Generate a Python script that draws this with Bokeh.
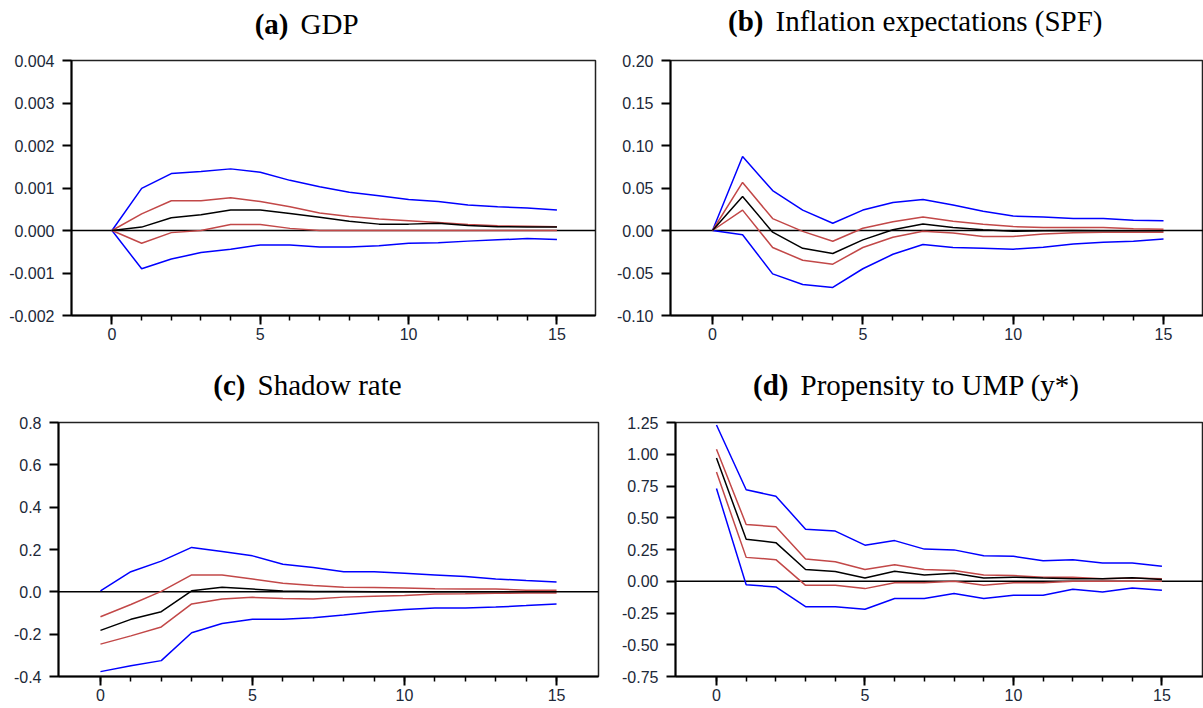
from bokeh.plotting import figure
from bokeh.models import Range1d, FixedTicker, Span, Label, PrintfTickFormatter
from bokeh.layouts import column, row
from bokeh.embed import file_html
from bokeh.resources import INLINE

# ---------------- data ----------------
horizon = list(range(16))
x_tick_values = [0, 5, 10, 15]
x_tick_labels = ["0", "5", "10", "15"]

# (a) GDP
gdp_hi2 = [0, 0.00099, 0.00134, 0.00139, 0.00145, 0.00137, 0.00118, 0.00103, 0.00090, 0.00082, 0.00073, 0.00068, 0.00060, 0.00056, 0.00053, 0.00048]
gdp_hi1 = [0, 0.00039, 0.00070, 0.00070, 0.00077, 0.00068, 0.00056, 0.00041, 0.00033, 0.00027, 0.00023, 0.00019, 0.00014, 0.00011, 0.00010, 0.00009]
gdp_med = [0, 0.00008, 0.00030, 0.00037, 0.00048, 0.00048, 0.00040, 0.00031, 0.00022, 0.00015, 0.00015, 0.00017, 0.00012, 0.00009, 0.00008, 0.00008]
gdp_lo1 = [0, -0.00030, -0.00005, 0.0, 0.00014, 0.00014, 0.00005, 0.0, 0.0, 0.0, 0.0, 0.0, 0.0, 0.0, 0.0, 0.0]
gdp_lo2 = [0, -0.00090, -0.00067, -0.00052, -0.00044, -0.00034, -0.00034, -0.00039, -0.00039, -0.00036, -0.00030, -0.00029, -0.00025, -0.00022, -0.00019, -0.00021]
gdp_y_ticks = [-0.002, -0.001, 0.0, 0.001, 0.002, 0.003, 0.004]
gdp_y_labels = ["-0.002", "-0.001", "0.000", "0.001", "0.002", "0.003", "0.004"]

# (b) Inflation expectations (SPF)
spf_hi2 = [0, 0.087, 0.047, 0.024, 0.0085, 0.024, 0.033, 0.0365, 0.030, 0.0227, 0.017, 0.016, 0.014, 0.014, 0.012, 0.0115]
spf_hi1 = [0, 0.0565, 0.014, -0.001, -0.0127, 0.0027, 0.0104, 0.016, 0.011, 0.0073, 0.0046, 0.0035, 0.0035, 0.0035, 0.002, 0.0015]
spf_med = [0, 0.040, -0.002, -0.021, -0.027, -0.011, 0.0008, 0.0077, 0.0035, 0.0008, -0.001, -0.0004, 0.0, -0.0004, -0.0004, -0.0004]
spf_lo1 = [0, 0.024, -0.020, -0.035, -0.0396, -0.020, -0.008, -0.001, -0.003, -0.007, -0.007, -0.004, -0.0027, -0.002, -0.002, -0.002]
spf_lo2 = [0, -0.005, -0.051, -0.0635, -0.067, -0.045, -0.028, -0.0165, -0.020, -0.021, -0.022, -0.0196, -0.0158, -0.0138, -0.0127, -0.010]
spf_y_ticks = [-0.10, -0.05, 0.0, 0.05, 0.10, 0.15, 0.20]
spf_y_labels = ["-0.10", "-0.05", "0.00", "0.05", "0.10", "0.15", "0.20"]

# (c) Shadow rate
sr_hi2 = [0.005, 0.095, 0.145, 0.21, 0.19, 0.17, 0.13, 0.115, 0.095, 0.095, 0.088, 0.08, 0.072, 0.061, 0.053, 0.046]
sr_hi1 = [-0.118, -0.06, 0.002, 0.08, 0.08, 0.061, 0.041, 0.03, 0.022, 0.02, 0.018, 0.014, 0.013, 0.013, 0.008, 0.007]
sr_med = [-0.182, -0.13, -0.094, 0.005, 0.022, 0.013, 0.004, 0.001, 0.001, 0.0, 0.0, 0.0, 0.0, 0.0, 0.0, 0.0]
sr_lo1 = [-0.247, -0.208, -0.166, -0.057, -0.034, -0.026, -0.032, -0.034, -0.025, -0.021, -0.017, -0.010, -0.009, -0.007, -0.006, -0.006]
sr_lo2 = [-0.377, -0.349, -0.325, -0.193, -0.150, -0.130, -0.130, -0.122, -0.110, -0.094, -0.083, -0.076, -0.076, -0.072, -0.065, -0.057]
sr_y_ticks = [-0.4, -0.2, 0.0, 0.2, 0.4, 0.6, 0.8]
sr_y_labels = ["-0.4", "-0.2", "0.0", "0.2", "0.4", "0.6", "0.8"]

# (d) Propensity to UMP (y*)
ump_hi2 = [1.23, 0.72, 0.67, 0.41, 0.395, 0.284, 0.32, 0.253, 0.247, 0.20, 0.196, 0.162, 0.17, 0.144, 0.144, 0.118]
ump_hi1 = [1.04, 0.447, 0.43, 0.175, 0.154, 0.092, 0.13, 0.092, 0.084, 0.05, 0.045, 0.032, 0.032, 0.019, 0.025, 0.019]
ump_med = [0.97, 0.33, 0.304, 0.092, 0.076, 0.025, 0.079, 0.05, 0.063, 0.025, 0.032, 0.025, 0.019, 0.019, 0.027, 0.014]
ump_lo1 = [0.86, 0.188, 0.17, -0.032, -0.032, -0.058, -0.012, -0.012, 0.0, -0.032, -0.012, -0.012, 0.0, 0.0, 0.0, 0.0]
ump_lo2 = [0.73, -0.027, -0.045, -0.20, -0.20, -0.22, -0.136, -0.136, -0.097, -0.136, -0.11, -0.11, -0.063, -0.084, -0.053, -0.071]
ump_y_ticks = [-0.75, -0.50, -0.25, 0.0, 0.25, 0.50, 0.75, 1.00, 1.25]
ump_y_labels = ["-0.75", "-0.50", "-0.25", "0.00", "0.25", "0.50", "0.75", "1.00", "1.25"]

titles_bold = ["(a)", "(b)", "(c)", "(d)"]
titles_text = ["GDP", "Inflation expectations (SPF)", "Shadow rate", "Propensity to UMP (y*)"]

# ---------------- styling ----------------
BLUE = "#0000ff"
RED = "#c24848"
BLACK = "#000000"
TICK_COLOR = "#202838"
SERIF = "Liberation Serif"
SANS = "Liberation Sans"
TOTAL_W = 1203


def title_strip(height, specs):
    """A blank figure whose frame is the whole strip; pixel-like data units."""
    s = figure(width=TOTAL_W, height=height, output_backend="svg", toolbar_location=None,
               x_range=Range1d(0, TOTAL_W), y_range=Range1d(0, height),
               min_border_left=0, min_border_right=0, min_border_top=0, min_border_bottom=0)
    s.axis.visible = False
    s.grid.visible = False
    s.outline_line_color = None
    s.background_fill_color = "white"
    s.border_fill_color = "white"
    for idx, split_x, mid_y in specs:
        s.add_layout(Label(x=split_x, y=mid_y, text=titles_bold[idx], text_font=SERIF,
                           text_font_size="29px", text_font_style="bold", text_align="right",
                           text_baseline="middle", text_color="black"))
        s.add_layout(Label(x=split_x + 12, y=mid_y, text=titles_text[idx], text_font=SERIF,
                           text_font_size="29px", text_align="left",
                           text_baseline="middle", text_color="black"))
    return s


def make_panel(hi2, hi1, med, lo1, lo2, yticks, ylabels, fmt,
               width, height, bl, br, bt, bb, xr, yr):
    p = figure(width=width, height=height, output_backend="svg", toolbar_location=None,
               x_range=Range1d(*xr), y_range=Range1d(*yr),
               min_border_left=bl, min_border_right=br, min_border_top=bt, min_border_bottom=bb)
    p.background_fill_color = "white"
    p.border_fill_color = "white"
    p.xgrid.visible = False
    p.ygrid.visible = False
    p.outline_line_color = "#222222"
    p.outline_line_width = 1.5

    # zero line
    p.add_layout(Span(location=0, dimension="width", line_color="black", line_width=1.5, level="underlay"))

    p.line(horizon, hi2, line_color=BLUE, line_width=1.5)
    p.line(horizon, lo2, line_color=BLUE, line_width=1.5)
    p.line(horizon, hi1, line_color=RED, line_width=1.5)
    p.line(horizon, lo1, line_color=RED, line_width=1.5)
    p.line(horizon, med, line_color=BLACK, line_width=1.5)

    # axes
    xa = p.below[0]
    xa.ticker = FixedTicker(ticks=x_tick_values, minor_ticks=horizon)
    xa.major_label_overrides = {v: s for v, s in zip(x_tick_values, x_tick_labels)}
    xa.major_tick_out = 9
    xa.major_tick_in = 0
    xa.minor_tick_out = 5
    xa.minor_tick_in = 0
    xa.major_label_standoff = 3
    ya = p.left[0]
    ya.ticker = FixedTicker(ticks=yticks, minor_ticks=[])
    ya.formatter = PrintfTickFormatter(format=fmt)
    ya.major_label_overrides = {v: s for v, s in zip(yticks, ylabels)}
    ya.major_tick_out = 9
    ya.major_tick_in = 0
    ya.major_label_standoff = 8
    for ax in (xa, ya):
        ax.axis_line_width = 2
        ax.axis_line_color = "black"
        ax.major_tick_line_color = "black"
        ax.major_tick_line_width = 2
        ax.minor_tick_line_color = "black"
        ax.minor_tick_line_width = 1.5
        ax.major_label_text_font = SANS
        ax.major_label_text_font_size = "16px"
        ax.major_label_text_color = TICK_COLOR
    return p


strip_top = title_strip(50, [(0, 288, 27), (1, 763, 30)])
pa = make_panel(gdp_hi2, gdp_hi1, gdp_med, gdp_lo1, gdp_lo2, gdp_y_ticks, gdp_y_labels, "%.3f",
                width=605, height=310, bl=71, br=10, bt=10, bb=41,
                xr=(-1.365, 16.3), yr=(-0.002, 0.004))
pb = make_panel(spf_hi2, spf_hi1, spf_med, spf_lo1, spf_lo2, spf_y_ticks, spf_y_labels, "%.2f",
                width=598, height=310, bl=65, br=0, bt=5, bb=45,
                xr=(-1.397, 16.33), yr=(-0.10, 0.20))
strip_bot = title_strip(52, [(2, 245, 28), (3, 788, 28)])
pc = make_panel(sr_hi2, sr_hi1, sr_med, sr_lo1, sr_lo2, sr_y_ticks, sr_y_labels, "%.1f",
                width=605, height=296, bl=58, br=7, bt=7, bb=32,
                xr=(-1.38, 16.38), yr=(-0.4, 0.8))
pd_ = make_panel(ump_hi2, ump_hi1, ump_med, ump_lo1, ump_lo2, ump_y_ticks, ump_y_labels, "%.2f",
                 width=598, height=296, bl=70, br=0, bt=10, bb=29,
                 xr=(-1.38, 16.4), yr=(-0.75, 1.25))

layout = column(strip_top, row(pa, pb), strip_bot, row(pc, pd_))
open("out.html", "w").write(file_html(layout, INLINE))
